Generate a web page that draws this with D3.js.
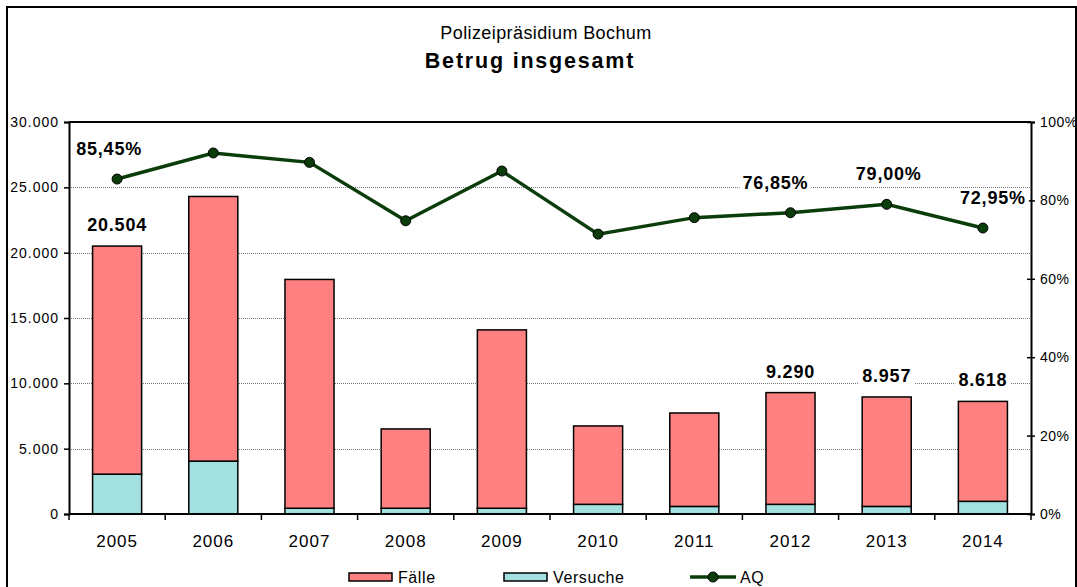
<!DOCTYPE html>
<html>
<head>
<meta charset="utf-8">
<script src="https://cdn.jsdelivr.net/npm/d3@7"></script>
<style>
  body { margin: 0; background: #fff; }
  svg text { font-family: "Liberation Sans", Arial, sans-serif; }
</style>
</head>
<body>
<div id="chart"></div>
<script>
// data
var years = ["2005","2006","2007","2008","2009","2010","2011","2012","2013","2014"];
var totals = [20504, 24300, 17950, 6510, 14090, 6740, 7730, 9290, 8957, 8618];
var versuche = [3050, 4050, 440, 440, 440, 740, 580, 740, 580, 970];
var aq = [85.45, 92.1, 89.7, 74.8, 87.5, 71.4, 75.6, 76.85, 79.00, 72.95];
var yTicks = [0, 5000, 10000, 15000, 20000, 25000, 30000];
var pTicks = [0, 20, 40, 60, 80, 100];
// which points get a value label
var barLabelYears = ["2005","2012","2013","2014"];
var aqLabelYears = ["2005","2012","2013","2014"];

var width = 1077, height = 587;
var margin = {left: 69, right: 46, top: 122, bottom: 73};
var plotW = width - margin.left - margin.right;
var plotH = height - margin.top - margin.bottom;

var faelleColor = "#ff8080";
var versColor = "#a3e0e0";
var lineColor = "#0b3d0b";

// hand-placed label nudges, like in the original sheet
var aqLabelNudge = {"2005": -8, "2012": -15, "2013": 2, "2014": 10};

var fmtNum = d3.formatLocale({decimal: ",", thousands: ".", grouping: [3], currency: ["", "€"]});
var fmtInt = fmtNum.format(",d");
var fmtPct = fmtNum.format(".2f");

var svg = d3.select("#chart").append("svg")
  .attr("width", width).attr("height", height);

// outer frame
svg.append("rect")
  .attr("x", 7).attr("y", 7).attr("width", 1069).attr("height", 600)
  .attr("fill", "none").attr("stroke", "#000").attr("stroke-width", 2);

// titles
svg.append("text").attr("x", 546).attr("y", 39).attr("text-anchor", "middle")
  .attr("font-size", 18).attr("letter-spacing", 0.4).text("Polizeipräsidium Bochum");
svg.append("text").attr("x", 530).attr("y", 68).attr("text-anchor", "middle")
  .attr("font-size", 21.5).attr("font-weight", "bold").attr("letter-spacing", 1.8)
  .text("Betrug insgesamt");

var g = svg.append("g").attr("transform", "translate(" + margin.left + "," + margin.top + ")");

var x = d3.scaleBand().domain(years).range([0, plotW]).paddingInner(0.49).paddingOuter(0.245);
var y = d3.scaleLinear().domain([0, 30000]).range([plotH, 0]);
var yp = d3.scaleLinear().domain([0, 100]).range([plotH, 0]);

// gridlines
g.selectAll("line.grid").data(yTicks.slice(1, -1))
  .enter().append("line").attr("class", "grid")
  .attr("x1", 0).attr("x2", plotW)
  .attr("y1", function(d){ return Math.round(y(d)) + 0.5; })
  .attr("y2", function(d){ return Math.round(y(d)) + 0.5; })
  .attr("stroke", "#777").attr("stroke-width", 1).attr("stroke-dasharray", "1,1");

// stacked bars
var rows = years.map(function(yr, i){
  return {year: yr, versuche: versuche[i], faelle: totals[i] - versuche[i]};
});
var stack = d3.stack().keys(["versuche", "faelle"]);
var series = stack(rows);
var colors = {versuche: versColor, faelle: faelleColor};

g.selectAll("g.series").data(series)
  .enter().append("g").attr("class", "series")
  .attr("fill", function(d){ return colors[d.key]; })
  .selectAll("rect").data(function(d){ return d; })
  .enter().append("rect")
    .attr("x", function(d){ return x(d.data.year); })
    .attr("width", x.bandwidth())
    .attr("y", function(d){ return y(d[1]); })
    .attr("height", function(d){ return y(d[0]) - y(d[1]); })
    .attr("stroke", "#000").attr("stroke-width", 1.5);

// axes
var xAxis = g.append("g").attr("transform", "translate(0," + plotH + ")");
xAxis.append("line").attr("x1", 0).attr("x2", plotW).attr("y1", 0).attr("y2", 0)
  .attr("stroke", "#000").attr("stroke-width", 2);
xAxis.selectAll("line.tick").data(d3.range(years.length + 1))
  .enter().append("line").attr("class", "tick")
  .attr("x1", function(i){ return i * x.step(); })
  .attr("x2", function(i){ return i * x.step(); })
  .attr("y1", 0).attr("y2", 6).attr("stroke", "#000").attr("stroke-width", 1.5);
xAxis.selectAll("text").data(years)
  .enter().append("text")
  .attr("x", function(d){ return x(d) + x.bandwidth() / 2; })
  .attr("y", 33).attr("text-anchor", "middle").attr("font-size", 17).attr("letter-spacing", 1)
  .text(function(d){ return d; });

var leftAxis = g.append("g").call(d3.axisLeft(y).tickValues(yTicks)
  .tickSize(5).tickFormat(fmtInt));
leftAxis.select(".domain").attr("stroke-width", 2);
leftAxis.selectAll(".tick line").attr("stroke-width", 1.5);
leftAxis.selectAll("text").attr("font-size", 14).attr("fill", "#000").attr("x", -10)
  .attr("letter-spacing", 1)
  .attr("font-family", "Liberation Sans, Arial, sans-serif");

var rightAxis = g.append("g").attr("transform", "translate(" + plotW + ",0)")
  .call(d3.axisRight(yp).tickValues(pTicks).tickSize(4).tickFormat(function(d){ return d + "%"; }));
rightAxis.select(".domain").attr("stroke-width", 2);
rightAxis.selectAll(".tick line").attr("x1", -4).attr("stroke-width", 1.5);
rightAxis.selectAll("text").attr("font-size", 14).attr("fill", "#000").attr("x", 9)
  .attr("letter-spacing", 0.5)
  .attr("font-family", "Liberation Sans, Arial, sans-serif");

// top border of plot area
g.append("line").attr("x1", 0).attr("x2", plotW).attr("y1", 0).attr("y2", 0)
  .attr("stroke", "#000").attr("stroke-width", 2);

// AQ line
var cx = function(i){ return x(years[i]) + x.bandwidth() / 2; };
var line = d3.line().x(function(d, i){ return cx(i); }).y(function(d){ return yp(d); });
g.append("path").datum(aq).attr("d", line)
  .attr("fill", "none").attr("stroke", lineColor).attr("stroke-width", 3.5);
g.selectAll("circle.aq").data(aq)
  .enter().append("circle").attr("class", "aq")
  .attr("cx", function(d, i){ return cx(i); })
  .attr("cy", function(d){ return yp(d); })
  .attr("r", 5).attr("fill", lineColor).attr("stroke", "#000").attr("stroke-width", 1);

// value labels with white boxes
function addLabel(px, py, txt) {
  var t = g.append("text").attr("x", px).attr("y", py).attr("text-anchor", "middle")
    .attr("dominant-baseline", "central").attr("letter-spacing", 0.8)
    .attr("font-size", 18).attr("font-weight", "bold").text(txt);
  var b = t.node().getBBox();
  g.insert("rect", function(){ return t.node(); })
    .attr("x", b.x - 3).attr("y", b.y).attr("width", b.width + 6).attr("height", b.height)
    .attr("fill", "#fff");
}
years.forEach(function(yr, i){
  if (barLabelYears.indexOf(yr) >= 0) addLabel(cx(i), y(totals[i]) - 21, fmtInt(totals[i]));
  if (aqLabelYears.indexOf(yr) >= 0)
    addLabel(cx(i) + (aqLabelNudge[yr] || 0), yp(aq[i]) - 30, fmtPct(aq[i]) + "%");
});

// legend
var legend = svg.append("g").attr("transform", "translate(0,577)");
var legItems = [
  {label: "Fälle", type: "rect", color: faelleColor, x: 349},
  {label: "Versuche", type: "rect", color: versColor, x: 504},
  {label: "AQ", type: "line", color: lineColor, x: 690}
];
legItems.forEach(function(it){
  if (it.type === "rect") {
    legend.append("rect").attr("x", it.x).attr("y", -4).attr("width", 43).attr("height", 8)
      .attr("fill", it.color).attr("stroke", "#000").attr("stroke-width", 1.5);
  } else {
    legend.append("line").attr("x1", it.x).attr("x2", it.x + 46).attr("y1", 0).attr("y2", 0)
      .attr("stroke", it.color).attr("stroke-width", 3.5);
    legend.append("circle").attr("cx", it.x + 23).attr("cy", 0).attr("r", 5)
      .attr("fill", it.color).attr("stroke", "#000");
  }
  legend.append("text").attr("x", it.x + (it.type === "rect" ? 49 : 50)).attr("y", 0)
    .attr("dominant-baseline", "central").attr("font-size", 16).attr("letter-spacing", 0.6)
    .text(it.label);
});
</script>
</body>
</html>
